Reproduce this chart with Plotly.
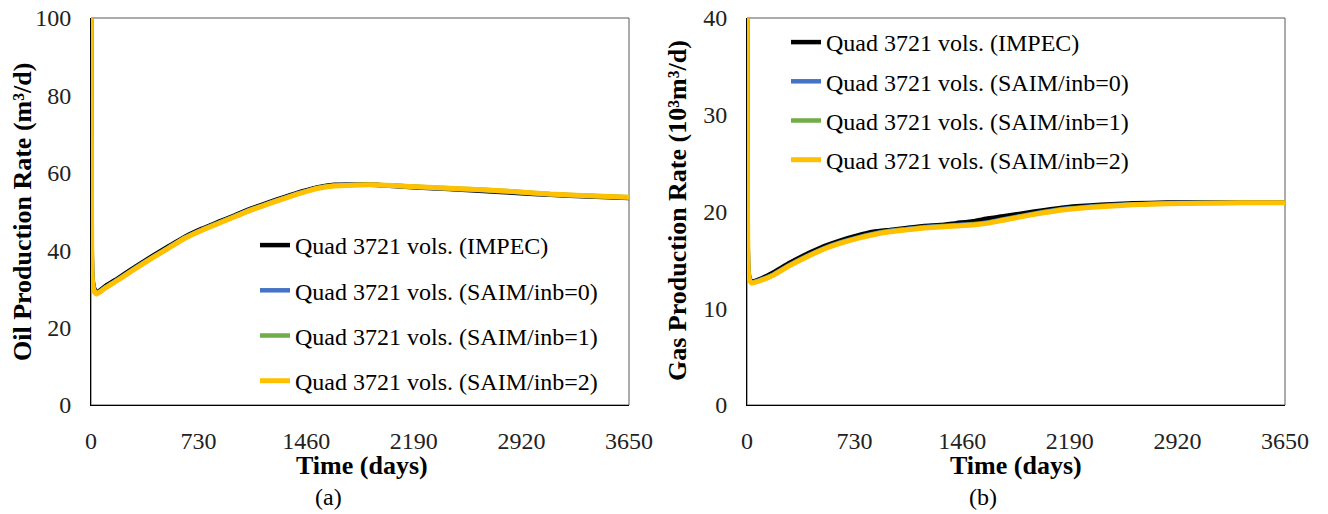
import plotly.graph_objects as go

# ---------------- data ----------------
series_names = ["Quad 3721 vols. (IMPEC)", "Quad 3721 vols. (SAIM/inb=0)",
                "Quad 3721 vols. (SAIM/inb=1)", "Quad 3721 vols. (SAIM/inb=2)"]
series_colors = ["#000000", "#4472C4", "#70AD47", "#FFC000"]
series_widths = [4.5, 4.5, 4.5, 5]

t_oil = [0, 3, 8, 20, 38, 100, 185, 300, 412, 530, 638, 750, 864, 980, 1090, 1200,
         1316, 1430, 1542, 1650, 1769, 1900, 2050, 2210, 2430, 2661, 2890, 3114, 3380, 3650]
oil_impec = [100, 58, 34, 30.3, 29.1, 30.8, 32.8, 35.7, 38.4, 41.1, 43.5, 45.5, 47.3, 49.1, 50.8,
             52.3, 53.8, 55.2, 56.3, 56.9, 57.0, 57.0, 56.6, 56.2, 55.8, 55.3, 54.8, 54.3, 53.9, 53.5]
oil_inb0 = [100, 59, 33.4, 29.9, 28.9, 30.5, 32.5, 35.4, 38.1, 40.8, 43.3, 45.3, 47.1, 48.9, 50.6,
            52.1, 53.6, 55.0, 56.1, 56.7, 56.9, 56.9, 56.7, 56.3, 55.9, 55.5, 55.0, 54.4, 54.0, 53.6]
oil_inb1 = [100, 59.5, 33.2, 29.7, 28.8, 30.4, 32.4, 35.3, 38.0, 40.7, 43.2, 45.2, 47.0, 48.8, 50.5,
            52.0, 53.5, 54.9, 56.1, 56.7, 56.85, 56.9, 56.7, 56.4, 56.0, 55.6, 55.1, 54.5, 54.1, 53.7]
oil_inb2 = [100, 60, 33, 29.6, 28.7, 30.3, 32.3, 35.2, 37.9, 40.6, 43.1, 45.1, 46.9, 48.7, 50.4,
            51.9, 53.4, 54.8, 56.0, 56.6, 56.8, 56.9, 56.7, 56.4, 56.0, 55.6, 55.1, 54.5, 54.1, 53.7]

t_gas = [0, 3, 8, 18, 32, 100, 178, 290, 405, 520, 631, 745, 857, 970, 1084, 1200, 1310,
         1420, 1535, 1640, 1740, 1950, 2169, 2400, 2621, 2850, 3073, 3350, 3650]
gas_impec = [40, 21, 14.3, 13.1, 12.8, 13.1, 13.7, 14.7, 15.6, 16.4, 17.0, 17.5, 17.9, 18.1, 18.3,
             18.5, 18.6, 18.8, 19.0, 19.3, 19.5, 20.0, 20.45, 20.7, 20.85, 20.92, 20.95, 20.95, 20.95]
gas_inb0 = [40, 21.5, 14.1, 13.0, 12.7, 13.0, 13.5, 14.5, 15.4, 16.2, 16.8, 17.3, 17.7, 18.0, 18.2,
            18.4, 18.5, 18.6, 18.7, 18.9, 19.2, 19.8, 20.3, 20.6, 20.75, 20.85, 20.9, 20.9, 20.9]
gas_inb1 = [40, 21.8, 14.05, 12.95, 12.65, 12.95, 13.45, 14.45, 15.35, 16.15, 16.75, 17.25, 17.65,
            17.95, 18.15, 18.35, 18.45, 18.55, 18.65, 18.85, 19.15, 19.75, 20.25, 20.55, 20.72, 20.82,
            20.87, 20.9, 20.9]
gas_inb2 = [40, 22, 14, 12.9, 12.6, 12.9, 13.4, 14.4, 15.3, 16.1, 16.7, 17.2, 17.6, 17.9, 18.1,
            18.3, 18.4, 18.5, 18.6, 18.8, 19.1, 19.7, 20.2, 20.5, 20.7, 20.8, 20.85, 20.9, 20.9]

x_ticks = [0, 730, 1460, 2190, 2920, 3650]
oil_ticks = [0, 20, 40, 60, 80, 100]
gas_ticks = [0, 10, 20, 30, 40]

# ---------------- figure ----------------
W, H = 1328, 514
FONT = "Liberation Serif, Times New Roman, serif"


def px_x(p):
    return p / W


def px_y(p):
    return 1 - p / H


fig = go.Figure()

oil_sets = [oil_impec, oil_inb0, oil_inb1, oil_inb2]
gas_sets = [gas_impec, gas_inb0, gas_inb1, gas_inb2]

for i, name in enumerate(series_names):
    fig.add_trace(go.Scatter(x=t_oil, y=oil_sets[i], mode="lines", name=name,
                             line=dict(color=series_colors[i], width=series_widths[i],
                                       shape="spline", smoothing=0.5),
                             xaxis="x", yaxis="y", legend="legend", legendgroup=f"a{i}"))
for i, name in enumerate(series_names):
    fig.add_trace(go.Scatter(x=t_gas, y=gas_sets[i], mode="lines", name=name,
                             line=dict(color=series_colors[i], width=series_widths[i],
                                       shape="spline", smoothing=0.5),
                             xaxis="x2", yaxis="y2", legend="legend2", legendgroup=f"b{i}"))

ydom = [px_y(405), px_y(18)]
axis_common = dict(showgrid=False, zeroline=False, showline=True, linecolor="#000000",
                   linewidth=1, ticks="", tickfont=dict(family=FONT, size=24, color="#222222"),
                   automargin=False, ticklabelstandoff=14)

fig.update_layout(
    width=W, height=H,
    margin=dict(l=0, r=0, t=0, b=0),
    paper_bgcolor="white", plot_bgcolor="white",
    xaxis=dict(domain=[px_x(91), px_x(629)], range=[0, 3650], tickvals=x_ticks,
               anchor="y", **axis_common),
    yaxis=dict(domain=ydom, range=[0, 100], tickvals=oil_ticks, anchor="x", **axis_common),
    xaxis2=dict(domain=[px_x(747), px_x(1285)], range=[0, 3650], tickvals=x_ticks,
                anchor="y2", **axis_common),
    yaxis2=dict(domain=ydom, range=[0, 40], tickvals=gas_ticks, anchor="x2", **axis_common),
    legend=dict(x=px_x(255), y=px_y(223), xanchor="left", yanchor="top",
                font=dict(family=FONT, size=24, color="#000000"), bgcolor="rgba(0,0,0,0)",
                traceorder="grouped", tracegroupgap=11),
    legend2=dict(x=px_x(786), y=px_y(20), xanchor="left", yanchor="top",
                 font=dict(family=FONT, size=24, color="#000000"), bgcolor="rgba(0,0,0,0)",
                 traceorder="grouped", tracegroupgap=5),
    showlegend=True,
)

# plot-area border (top/right gray)
for xr, yr in [("x domain", "y domain"), ("x2 domain", "y2 domain")]:
    fig.add_shape(type="rect", xref=xr, yref=yr, x0=0, x1=1, y0=0, y1=1,
                  line=dict(color="#595959", width=1), layer="below")

annots = [
    dict(text="<b>Oil Production Rate (m³/d)</b>", x=px_x(22), y=px_y(212), textangle=-90, size=26),
    dict(text="<b>Gas Production Rate (10³m³/d)</b>", x=px_x(677), y=px_y(211), textangle=-90, size=26),
    dict(text="<b>Time (days)</b>", x=px_x(362), y=px_y(465), textangle=0, size=26),
    dict(text="<b>Time (days)</b>", x=px_x(1016), y=px_y(465), textangle=0, size=26),
    dict(text="(a)", x=px_x(328), y=px_y(497), textangle=0, size=24),
    dict(text="(b)", x=px_x(983), y=px_y(497), textangle=0, size=24),
]
for a in annots:
    fig.add_annotation(text=a["text"], x=a["x"], y=a["y"], xref="paper", yref="paper",
                       xanchor="center", yanchor="middle", textangle=a["textangle"],
                       showarrow=False, font=dict(family=FONT, size=a["size"], color="#000000"))

fig.write_html("out.html", config={"displayModeBar": False},
               post_script="document.body.style.margin='0';")
